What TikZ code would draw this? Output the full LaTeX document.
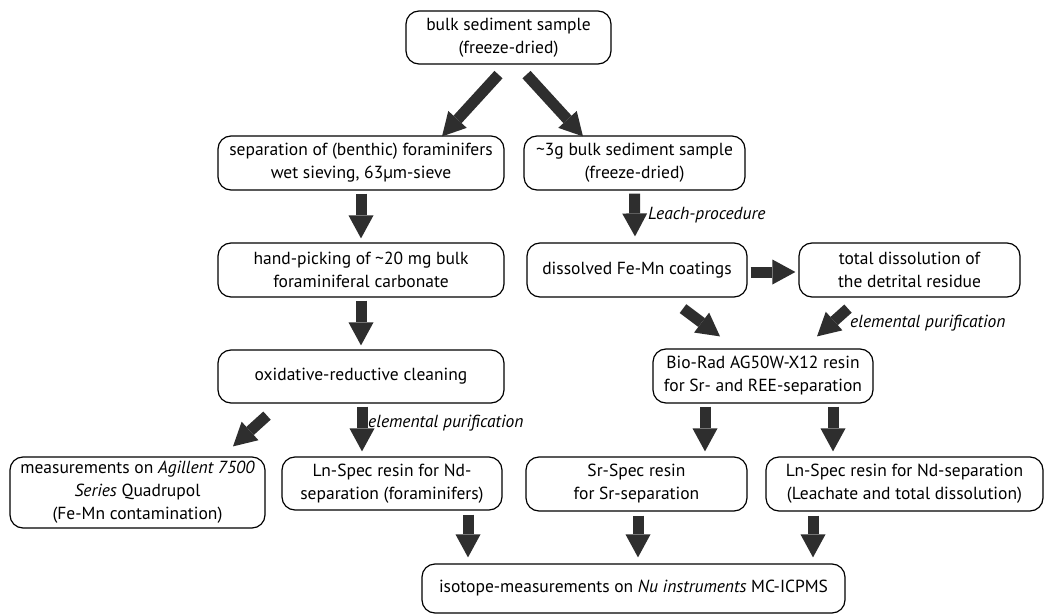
\documentclass[tikz,border=0pt]{standalone}
\usepackage{fontspec}
\setmainfont{PT Sans}
\usetikzlibrary{arrows.meta}
\definecolor{arrowc}{HTML}{2E2E2E}
\tikzset{
  box/.style={draw=black, line width=1.2pt, rounded corners=13pt, align=center,
    inner sep=0pt, font=\fontsize{17.5}{23}\selectfont},
  bigarrow/.style={draw=arrowc, line width=11pt,
    -{Triangle[width=25pt,length=23pt,line width=0pt]}},
  lbl/.style={anchor=west, inner sep=0pt, font=\fontsize{17.5}{23}\selectfont\itshape}
}
\begin{document}
\begin{tikzpicture}[x=1pt,y=-1pt]
\useasboundingbox (0,0) rectangle (1047,615);
\node[box, minimum width=205pt, minimum height=53pt] (top) at (508.5,37.5) {bulk sediment sample\\(freeze-dried)};
\node[box, minimum width=286pt, minimum height=54pt] (sep) at (361,163) {separation of (benthic) foraminifers\\wet sieving, 63µm-sieve};
\node[box, minimum width=221pt, minimum height=54pt] (g3) at (634.5,163) {\textasciitilde 3g bulk sediment sample\\(freeze-dried)};
\node[box, minimum width=286pt, minimum height=54pt] (hand) at (361,270) {hand-picking of \textasciitilde 20 mg bulk\\foraminiferal carbonate};
\node[box, minimum width=220pt, minimum height=54pt] (diss) at (637,270) {dissolved Fe-Mn coatings};
\node[box, minimum width=221pt, minimum height=54pt] (total) at (909.5,270) {total dissolution of\\the detrital residue};
\node[box, minimum width=286pt, minimum height=53pt] (oxi) at (361,376.5) {oxidative-reductive cleaning};
\node[box, minimum width=220pt, minimum height=54pt] (bio) at (763,376) {Bio-Rad AG50W-X12 resin\\for Sr- and REE-separation};
\node[box, minimum width=255pt, minimum height=71pt] (meas) at (137.5,492.5) {measurements on \textit{Agillent 7500}\\\textit{Series} Quadrupol\\(Fe-Mn contamination)};
\node[box, minimum width=220pt, minimum height=53pt] (lnl) at (392,483.5) {Ln-Spec resin for Nd-\\separation (foraminifers)};
\node[box, minimum width=221pt, minimum height=54pt] (sr) at (636.5,484) {Sr-Spec resin\\for Sr-separation};
\node[box, minimum width=277pt, minimum height=54pt] (lnr) at (904.5,484) {Ln-Spec resin for Nd-separation\\(Leachate and total dissolution)};
\node[box, minimum width=423pt, minimum height=49pt] (iso) at (633.5,588.5) {isotope-measurements on \textit{Nu instruments} MC-ICPMS};

\node[lbl] (leach) at (648,215) {Leach-procedure};
\node[lbl] (ep1) at (850,323) {elemental purification};
\node[lbl] (ep2) at (368,423) {elemental purification};

\draw[bigarrow] ([xshift=-10pt,yshift=-10pt]top.south) -- ([xshift=81pt,yshift=-1pt]sep.north);
\draw[bigarrow] ([xshift=18pt,yshift=-10pt]top.south) -- ([xshift=-51.5pt,yshift=-1pt]g3.north);
\draw[bigarrow] ([yshift=-3pt]sep.south) -- ([yshift=4pt]hand.north);
\draw[bigarrow] ([yshift=-3pt]hand.south) -- ([yshift=4pt]oxi.north);
\draw[bigarrow] ([yshift=-3pt]g3.south) -- ([xshift=-2pt,yshift=6pt]diss.north);
\draw[bigarrow] ([xshift=3pt,yshift=-2pt]diss.east) -- ([xshift=-3pt,yshift=-2pt]total.west);
\draw[bigarrow] ([xshift=46pt,yshift=-11pt]diss.south) -- ([xshift=-43pt,yshift=12pt]bio.north);
\draw[bigarrow] ([xshift=-61.5pt,yshift=-11pt]total.south) -- ([xshift=54pt,yshift=12pt]bio.north);
\draw[bigarrow] ([xshift=1pt,yshift=-3pt]oxi.south) -- ([xshift=-30pt,yshift=5pt]lnl.north);
\draw[bigarrow] ([xshift=-94pt,yshift=-12pt]oxi.south) -- ([xshift=95.5pt,yshift=10pt]meas.north);
\draw[bigarrow] ([xshift=-58pt,yshift=-3pt]bio.south) -- ([xshift=68.5pt,yshift=5pt]sr.north);
\draw[bigarrow] ([xshift=70pt,yshift=-3pt]bio.south) -- ([xshift=-71.5pt,yshift=5pt]lnr.north);
\draw[bigarrow] ([xshift=76pt,yshift=-4pt]lnl.south) -- ([xshift=-165.5pt,yshift=6pt]iso.north);
\draw[bigarrow] ([xshift=1.5pt,yshift=-4pt]sr.south) -- ([xshift=4.5pt,yshift=6pt]iso.north);
\draw[bigarrow] ([xshift=-91.5pt,yshift=-4pt]lnr.south) -- ([xshift=179.5pt,yshift=6pt]iso.north);
\end{tikzpicture}
\end{document}
